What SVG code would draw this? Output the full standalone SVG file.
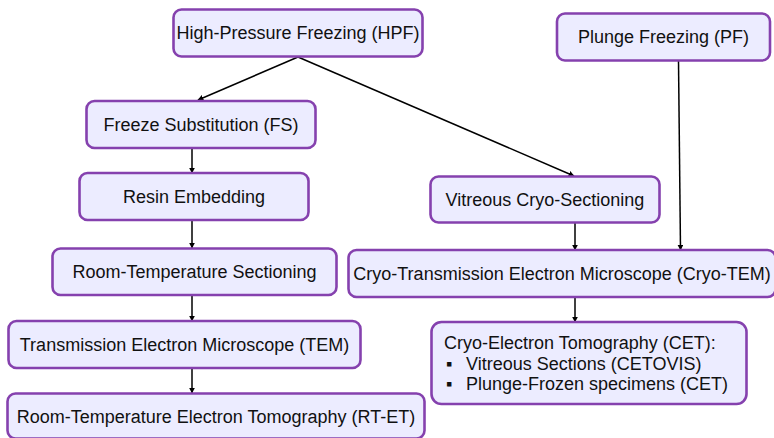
<svg xmlns="http://www.w3.org/2000/svg" width="774" height="438" viewBox="0 0 774 438">
  <style>
    .box { fill: #ECECFF; stroke: #8541AE; stroke-width: 2.6; }
    .lbl { font-family: "Liberation Sans", Arial, sans-serif; font-size: 18px; fill: #111; text-anchor: middle; dominant-baseline: central; }
    .txt { font-family: "Liberation Sans", Arial, sans-serif; font-size: 18px; fill: #111; }
    .edge { stroke: #000; stroke-width: 1.5; fill: none; marker-end: url(#arrow); }
  </style>
  <defs>
    <marker id="arrow" viewBox="0 0 10 10" refX="9" refY="5" markerWidth="6" markerHeight="6" markerUnits="userSpaceOnUse" orient="auto">
      <path d="M0,0 L10,5 L0,10 z" fill="#000"/>
    </marker>
  </defs>

  <g id="edges">
    <line class="edge" x1="298" y1="57" x2="198" y2="100"/>
    <line class="edge" x1="298" y1="57" x2="574" y2="176"/>
    <line class="edge" x1="678.5" y1="61" x2="680.5" y2="250"/>
    <line class="edge" x1="192" y1="148" x2="192" y2="173"/>
    <line class="edge" x1="192" y1="220" x2="192" y2="248"/>
    <line class="edge" x1="192" y1="295" x2="192" y2="321"/>
    <line class="edge" x1="192" y1="368" x2="192" y2="393"/>
    <line class="edge" x1="575" y1="223" x2="575" y2="250"/>
    <line class="edge" x1="575" y1="297" x2="575" y2="322"/>
  </g>

  <g id="hpf">
    <rect class="box" x="173.5" y="9.5" width="249" height="47" rx="8"/>
    <text class="lbl" x="298" y="33">High-Pressure Freezing (HPF)</text>
  </g>
  <g id="pf">
    <rect class="box" x="557" y="13.5" width="213" height="47" rx="8"/>
    <text class="lbl" x="663.5" y="37">Plunge Freezing (PF)</text>
  </g>
  <g id="fs">
    <rect class="box" x="86.5" y="101" width="229" height="47" rx="8"/>
    <text class="lbl" x="201" y="124.5">Freeze Substitution (FS)</text>
  </g>
  <g id="resin">
    <rect class="box" x="79.5" y="173" width="229" height="47" rx="8"/>
    <text class="lbl" x="194" y="196.5">Resin Embedding</text>
  </g>
  <g id="rts">
    <rect class="box" x="52.5" y="248.5" width="284" height="46.5" rx="8"/>
    <text class="lbl" x="194.5" y="271.5">Room-Temperature Sectioning</text>
  </g>
  <g id="tem">
    <rect class="box" x="8.5" y="321" width="352" height="47" rx="8"/>
    <text class="lbl" x="184.5" y="344.5">Transmission Electron Microscope (TEM)</text>
  </g>
  <g id="rtet">
    <rect class="box" x="7.5" y="393.5" width="417" height="45" rx="8"/>
    <text class="lbl" x="216" y="416.5">Room-Temperature Electron Tomography (RT-ET)</text>
  </g>
  <g id="vcs">
    <rect class="box" x="430.5" y="176.5" width="229" height="46" rx="8"/>
    <text class="lbl" x="545" y="199.5">Vitreous Cryo-Sectioning</text>
  </g>
  <g id="cryotem">
    <rect class="box" x="348.5" y="250" width="427" height="47" rx="8"/>
    <text class="lbl" x="562" y="273.5">Cryo-Transmission Electron Microscope (Cryo-TEM)</text>
  </g>
  <g id="cet">
    <rect class="box" x="431.5" y="322" width="315" height="82" rx="10"/>
    <text class="txt" x="444" y="349" font-size="17">Cryo-Electron Tomography (CET):</text>
    <text class="txt" x="446" y="370" font-size="16">▪</text>
    <text class="txt" x="466" y="370">Vitreous Sections (CETOVIS)</text>
    <text class="txt" x="446" y="390" font-size="16">▪</text>
    <text class="txt" x="466" y="390">Plunge-Frozen specimens (CET)</text>
  </g>
</svg>
